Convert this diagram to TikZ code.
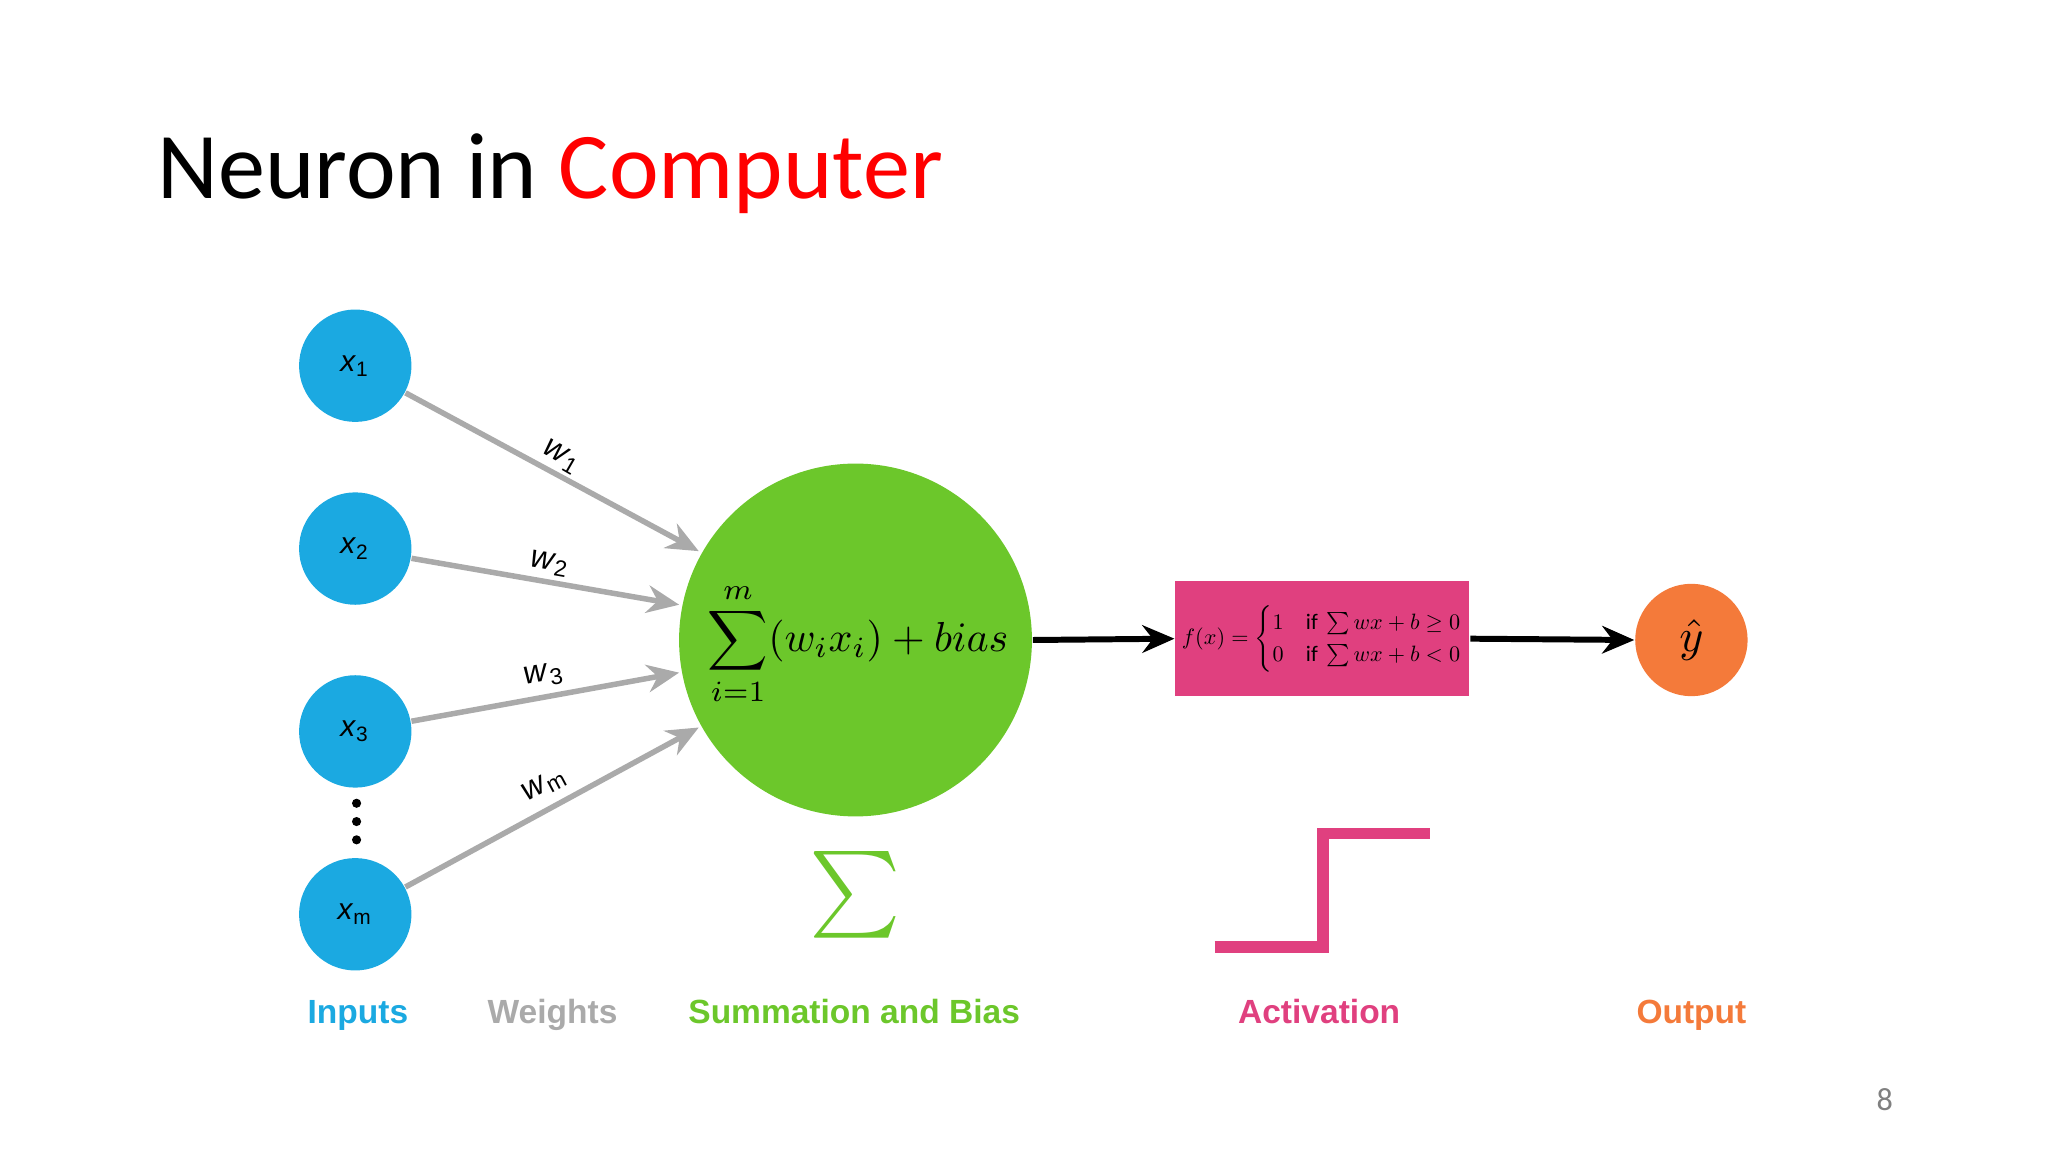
\documentclass[tikz,border=0pt]{standalone}
\usepackage{fontspec}
\setmainfont{Carlito}
\newfontfamily\arialf{Liberation Sans}
\usepackage{amsmath}
\usetikzlibrary{arrows.meta}
\definecolor{inblue}{RGB}{27,169,225}
\definecolor{sgreen}{RGB}{108,199,43}
\definecolor{apink}{RGB}{224,64,127}
\definecolor{oorange}{RGB}{244,122,58}
\definecolor{wgray}{RGB}{170,170,170}
\tikzset{
 inp/.style={circle,fill=inblue,minimum size=0.86cm,inner sep=0pt,font=\arialf\fontsize{6.5}{6.5}\selectfont},
 warr/.style={draw=wgray,line width=1.2pt,-{Stealth[length=7pt,width=6pt]}},
 barr/.style={draw=black,line width=1.3pt,-{Stealth[length=7pt,width=6pt]}},
 wlab/.style={font=\arialf\fontsize{7}{7}\selectfont},
 bot/.style={font=\arialf\bfseries\fontsize{7.3}{7.3}\selectfont,text height=6pt,text depth=1.5pt}
}
\begin{document}
\begin{tikzpicture}[x=0.01cm,y=-0.01cm]
\useasboundingbox (0,0) rectangle (1568,882);
\node[anchor=base west,inner sep=0pt,font=\fontsize{20.5}{20.5}\selectfont] (title) at (120,152) {Neuron in \textcolor{red}{Computer}};
\foreach \n/\y/\s in {1/280/1,2/420/2,3/560/3,m/700/m}
 \node[inp] (x\n) at (272,\y) {\textit{x}\textsubscript{\s}};
\foreach \y [count=\i] in {615,629,643} \node[circle,fill=black,inner sep=0pt,minimum size=0.07cm] (d\i) at (273,\y) {};
\node[circle,fill=sgreen,minimum size=2.7cm,inner sep=0pt] (sum) at (655,490) {};
\node (form) at (657,493) {\resizebox{2.3cm}{!}{$\displaystyle\sum_{i=1}^{m}(w_ix_i)+bias$}};
\coordinate (e1) at (535,422); \coordinate (e2) at (520,463);
\coordinate (e3) at (520,515); \coordinate (e4) at (535,557);
\draw[warr] (x1) -- (e1);
\draw[warr] (x2) -- (e2);
\draw[warr] (x3) -- (e3);
\draw[warr] (xm) -- (e4);
\node[wlab,rotate=-30] (w1) at (430,350) {\textit{w}\textsubscript{1}};
\node[wlab,rotate=-10] (w2) at (421,432) {\textit{w}\textsubscript{2}};
\node[wlab,rotate=10] (w3) at (417,517) {\textit{w}\textsubscript{3}};
\node[wlab,rotate=28] (wm) at (417,601) {\textit{w}\textsubscript{m}};
\node[fill=apink,minimum width=2.25cm,minimum height=0.88cm,inner sep=0pt] (act) at (1012.5,489) {\resizebox{2.15cm}{!}{$f(x)=\begin{cases}1 & \text{if }\sum wx+b\ge 0\\ 0 & \text{if }\sum wx+b<0\end{cases}$}};
\node[circle,fill=oorange,minimum size=0.86cm,inner sep=0pt] (out) at (1295,490) {$\hat y$};
\draw[barr] (sum.east) -- (act.west);
\draw[barr] (act.east) -- (out.west);
\node[text=sgreen] (sig) at (655,685) {\resizebox{0.7cm}{!}{$\sum$}};
\draw[apink,line width=2.5pt] (930,725) -- (1013,725) -- (1013,638) -- (1095,638);
\node[bot,text=inblue] (l1) at (274,776) {Inputs};
\node[bot,text=wgray] (l2) at (423,776) {Weights};
\node[bot,text=sgreen] (l3) at (654,776) {Summation and Bias};
\node[bot,text=apink] (l4) at (1010,776) {Activation};
\node[bot,text=oorange] (l5) at (1295,776) {Output};
\node[text=gray,font=\fontsize{7}{7}\selectfont] (pg) at (1443,842) {8};
\end{tikzpicture}
\end{document}
